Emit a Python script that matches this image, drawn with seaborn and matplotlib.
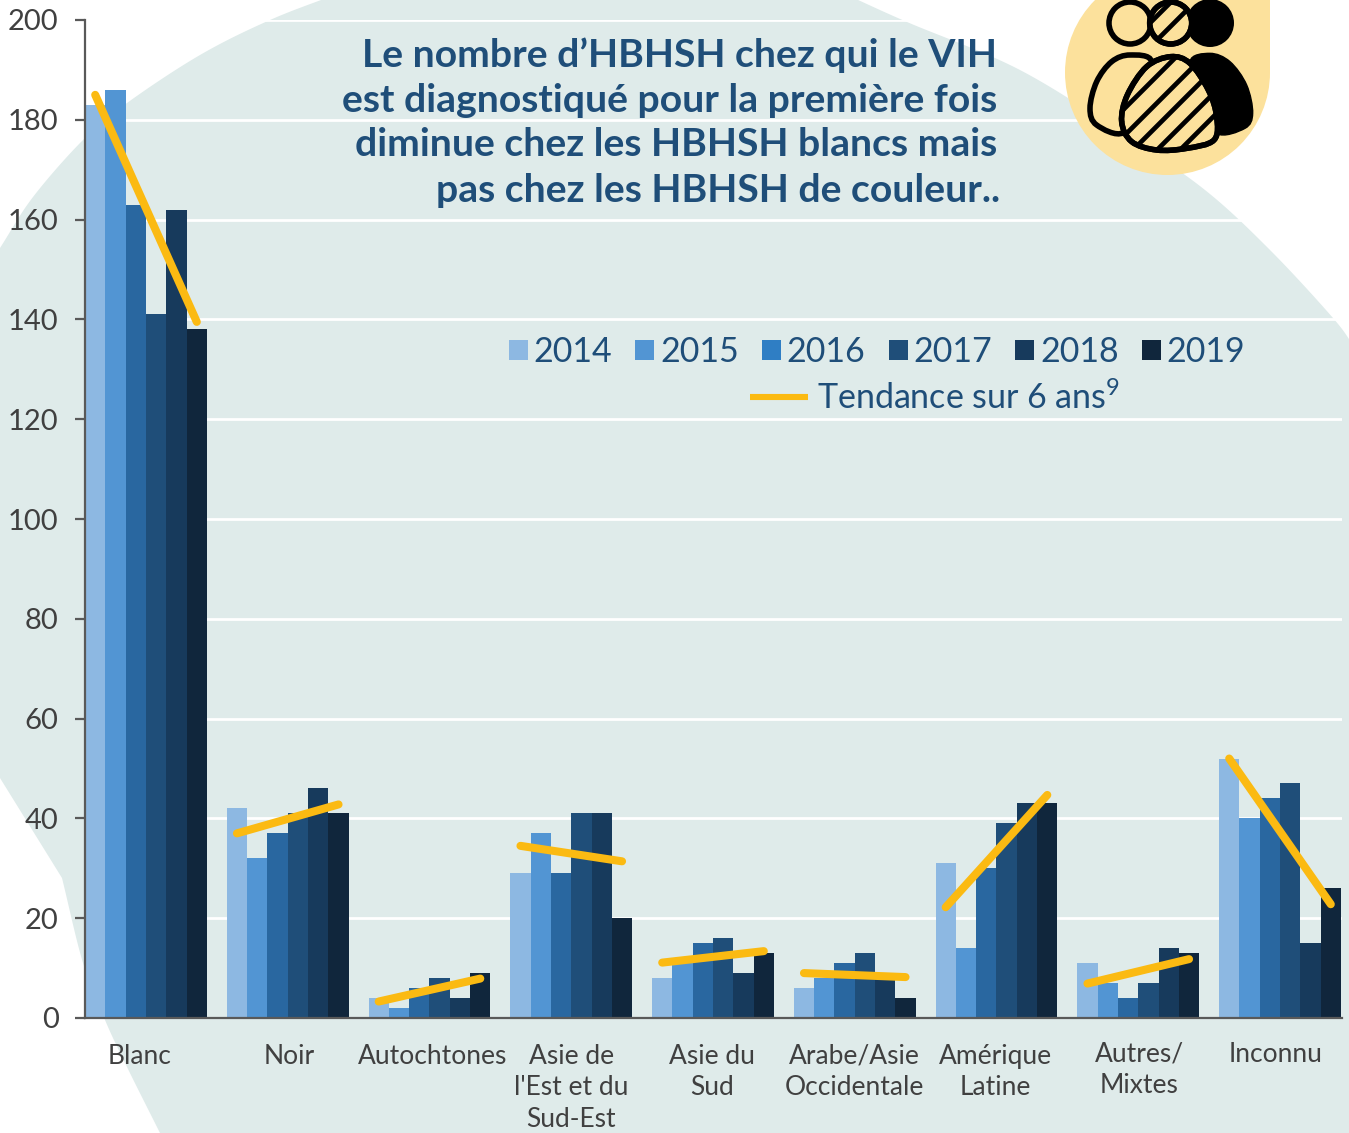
import numpy as np
import pandas as pd
import matplotlib
matplotlib.use("Agg")
import matplotlib.pyplot as plt
import seaborn as sns
from matplotlib.patches import Polygon, Circle, Rectangle, PathPatch, Patch
from matplotlib.path import Path
from matplotlib.lines import Line2D
from matplotlib.transforms import ScaledTranslation

categories = ["Blanc", "Noir", "Autochtones", "Asie de\nl'Est et du\nSud-Est", "Asie du\nSud",
              "Arabe/Asie\nOccidentale", "Amérique\nLatine", "Autres/\nMixtes", "Inconnu"]
years = ["2014", "2015", "2016", "2017", "2018", "2019"]
v2014 = [183, 42, 4, 29, 8, 6, 31, 11, 52]
v2015 = [186, 32, 2, 37, 11, 8, 14, 7, 40]
v2016 = [163, 37, 6, 29, 15, 11, 30, 4, 44]
v2017 = [141, 41, 8, 41, 16, 13, 39, 7, 47]
v2018 = [162, 46, 4, 41, 9, 9, 43, 14, 15]
v2019 = [138, 41, 9, 20, 13, 4, 43, 13, 26]
trend_start = [185, 37, 3.3, 34.5, 11.1, 9, 22.2, 6.9, 52]
trend_end = [139.5, 42.8, 7.9, 31.4, 13.4, 8.2, 44.7, 11.8, 22.8]
bar_colors = ["#8DB8E2", "#5295D3", "#2967A0", "#1F4E79", "#173A5C", "#10263C"]
legend_colors = ["#8DB8E2", "#5295D3", "#2F7EC4", "#1F4E79", "#173A5C", "#10263C"]

title_lines = ["Le nombre d’HBHSH chez qui le VIH", "est diagnostiqué pour la première fois",
               "diminue chez les HBHSH blancs mais", "pas chez les HBHSH de couleur.."]

sns.set_theme(style="white")
plt.rcParams["font.family"] = ["Lato", "DejaVu Sans"]
plt.rcParams["mathtext.default"] = "regular"

W, H = 1349, 1133
fig = plt.figure(figsize=(W / 100, H / 100), dpi=100, facecolor="white")


def catmull(pts, n=16):
    pts = np.array(pts, float)
    ext = np.vstack([2 * pts[0] - pts[1], pts, 2 * pts[-1] - pts[-2]])
    out = []
    for i in range(1, len(ext) - 2):
        p0, p1, p2, p3 = ext[i - 1], ext[i], ext[i + 1], ext[i + 2]
        for t in np.linspace(0, 1, n, endpoint=False):
            out.append(0.5 * (2 * p1 + (p2 - p0) * t + (2 * p0 - 5 * p1 + 4 * p2 - p3) * t ** 2
                              + (3 * p1 - p0 - 3 * p2 + p3) * t ** 3))
    out.append(pts[-1])
    return [tuple(p) for p in out]


# decorative backdrop, in pixel coordinates
bg = fig.add_axes([0, 0, 1, 1], zorder=0)
bg.set_xlim(0, W); bg.set_ylim(H, 0); bg.axis("off")
outline = (catmull([(0, 248), (33, 197), (83, 140), (127, 103), (200, 55), (270, 20), (337, -6)])
           + catmull([(845, -6), (907, 22), (1020, 70), (1128, 137), (1205, 190), (1270, 250), (1333, 318), (1355, 348)])
           + [(1349, 1133)]
           + catmull([(160, 1133), (127, 1067), (105, 1020), (83, 963), (62, 878)])
           + [(0, 778)])
bg.add_patch(Polygon(outline, closed=True, fc="#DFEBEA", ec="none"))

# chart
px = lambda x0, y0, x1, y1: [x0 / W, 1 - y1 / H, (x1 - x0) / W, (y1 - y0) / H]
ax = fig.add_axes(px(85, 20, 1342, 1018), zorder=1)
ax.patch.set_alpha(0)

df = pd.DataFrame({"cat": categories})
for y, vals in zip(years, [v2014, v2015, v2016, v2017, v2018, v2019]):
    df[y] = vals
long = df.melt(id_vars="cat", var_name="year", value_name="value")
sns.barplot(data=long, x="cat", y="value", hue="year", palette=bar_colors, width=0.86, gap=0,
            saturation=1, dodge=True, legend=False, ax=ax, errorbar=None, zorder=3,
            edgecolor="none", linewidth=0)

half = 2.5 * 0.86 / 6
tr = pd.DataFrame({
    "x": np.concatenate([np.arange(9) - half, np.arange(9) + half]),
    "v": trend_start + trend_end,
    "id": list(range(9)) * 2,
})
sns.lineplot(data=tr, x="x", y="v", units="id", estimator=None, color="#FBBA12", lw=5.8,
             solid_capstyle="round", legend=False, ax=ax, zorder=5)

ax.set_xlim(-61 / 141.75, (1342 - 146) / 141.75)
ax.set_ylim(0, 200)
ax.set_xlabel(""); ax.set_ylabel("")
ax.set_yticks(range(0, 201, 20))
ax.grid(axis="y", color="white", lw=2)
ax.set_axisbelow(True)
for s in ["top", "right"]:
    ax.spines[s].set_visible(False)
for s in ["left", "bottom"]:
    ax.spines[s].set_color("#595959")
    ax.spines[s].set_linewidth(1.6)
    ax.spines[s].set_zorder(6)
ax.tick_params(axis="y", length=7, width=1.6, color="#595959", labelsize=21, labelcolor="#404040", pad=12, left=True)
ax.tick_params(axis="x", length=0, labelsize=19, labelcolor="#404040", pad=18.5)

ax.set_xticks(range(9))
ax.set_xticklabels(categories, linespacing=1.33)
offs = [(-6, 0), (1, 0), (3, 0), (0, 0), (-1, 0), (0, 0), (-1, 0), (1, 2), (-4, 2)]
for lab, (dx, dy) in zip(ax.get_xticklabels(), offs):
    lab.set_transform(lab.get_transform() + ScaledTranslation(dx / 100, dy / 100, fig.dpi_scale_trans))

# legend
handles = [Patch(fc=c, ec="none") for c in legend_colors]
leg1 = ax.legend(handles, years, ncols=6, loc="center left", bbox_to_anchor=((509 - 85) / 1257, (1018 - 352) / 998),
                 fontsize=24.5, frameon=False, labelcolor="#1F4E79", handlelength=0.56, handleheight=0.56,
                 handletextpad=0.17, columnspacing=0.675, borderpad=0, borderaxespad=0)
ax.add_artist(leg1)
leg2 = ax.legend([Line2D([0], [0], color="#FBBA12", lw=4.4, solid_capstyle="butt")], ["Tendance sur 6 ans$^{9}$"],
                 loc="center left", bbox_to_anchor=((750 - 85) / 1257, (1018 - 398) / 998), fontsize=24.5,
                 frameon=False, labelcolor="#1F4E79", handlelength=1.7, handletextpad=0.26, borderpad=0,
                 borderaxespad=0)

# overlay: title and icon
ov = fig.add_axes([0, 0, 1, 1], zorder=2)
ov.set_xlim(0, W); ov.set_ylim(H, 0); ov.axis("off")
for tx, ty, line in zip([997, 997, 997, 1000], [55, 100, 145, 190], title_lines):
    ov.text(tx, ty, line, ha="right", va="center", fontsize=28.2, fontweight="bold", color="#1F4E79")

YEL = "#FCE19C"
ov.add_patch(Circle((1167.5, 72.5), 102.5, fc=YEL, ec="none"))
ov.add_patch(Rectangle((1167.5, 0), 102.5, 72.5, fc=YEL, ec="none"))


def smooth(pts):
    pts = np.array(pts, float)
    n = len(pts)
    verts = [pts[0]]; codes = [Path.MOVETO]
    for i in range(n):
        p0, p1, p2, p3 = pts[i - 1], pts[i], pts[(i + 1) % n], pts[(i + 2) % n]
        verts += [p1 + (p2 - p0) / 6, p2 - (p3 - p1) / 6, p2]
        codes += [Path.CURVE4] * 3
    return Path(verts, codes)


Z = lambda pts: [(1040 + x / 3, y / 3) for x, y in pts]
left = smooth(Z([(250, 398), (170, 375), (150, 325), (170, 245), (215, 185), (270, 165), (335, 185), (300, 300)]))
right = smooth(Z([(450, 185), (510, 160), (570, 185), (620, 255), (638, 340), (615, 385), (530, 400), (490, 300)]))
mid_pts = Z([(245, 365), (262, 285), (320, 200), (392, 170), (450, 190), (505, 270), (530, 350), (522, 420),
             (440, 445), (350, 450), (275, 425)])
mid = smooth(mid_pts)
LW = 4
ov.add_patch(PathPatch(left, fc=YEL, ec="black", lw=LW))
ov.add_patch(PathPatch(right, fc="black", ec="black", lw=1))
mp = PathPatch(mid, fc=YEL, ec="black", lw=LW, zorder=3)
ov.add_patch(mp)
for s in [1233, 1260, 1283, 1307, 1330]:
    l, = ov.plot([s - 250, s - 40], [250, 40], color="black", lw=3.4, zorder=4, solid_capstyle="butt")
    l.set_clip_path(mp)
ov.add_patch(PathPatch(mid, fc="none", ec="black", lw=LW, zorder=5))

ov.add_patch(Circle((1130, 23), 21, fc=YEL, ec="black", lw=LW))
ov.add_patch(Circle((1210, 23), 24, fc="black", ec="none", zorder=2))
hp = Circle((1170.7, 23), 21, fc=YEL, ec="black", lw=LW, zorder=3)
ov.add_patch(hp)
for s in [1173, 1197]:
    l, = ov.plot([s - 60, s + 10], [60, -10], color="black", lw=3.4, zorder=4, solid_capstyle="butt")
    l.set_clip_path(hp)
ov.add_patch(Circle((1170.7, 23), 21, fc="none", ec="black", lw=LW, zorder=5))
ov.set_xlim(0, W); ov.set_ylim(H, 0)

fig.savefig("out.png", dpi=100)
